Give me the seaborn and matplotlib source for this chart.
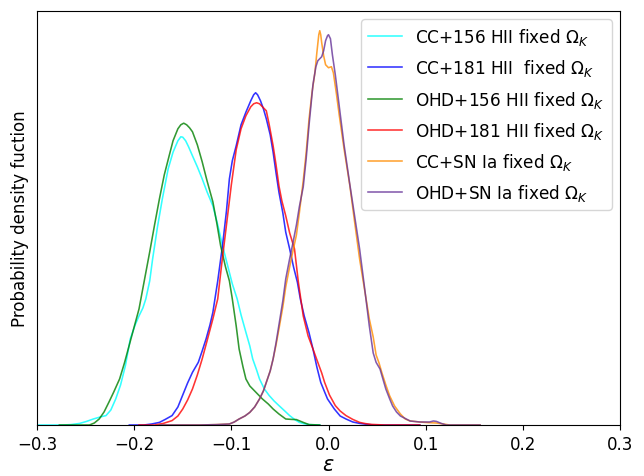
import matplotlib
matplotlib.use("Agg")
import matplotlib.pyplot as plt
import seaborn as sns
import numpy as np

# ---- data (epsilon, probability density) ----
cc156_x = [-0.300, -0.274, -0.265, -0.256, -0.249, -0.242, -0.235, -0.229, -0.224, -0.219, -0.214, -0.209,
           -0.204, -0.199, -0.195, -0.191, -0.188, -0.184, -0.181, -0.176, -0.171, -0.165, -0.160, -0.155,
           -0.152, -0.150, -0.147, -0.144, -0.140, -0.135, -0.130, -0.125, -0.119, -0.114, -0.109, -0.104,
           -0.099, -0.094, -0.090, -0.085, -0.081, -0.078, -0.074, -0.071, -0.066, -0.061, -0.056, -0.051,
           -0.045, -0.040, -0.035, -0.030, -0.025, -0.020, -0.009]
cc156_y = [0, 0, 0.02, 0.08, 0.18, 0.30, 0.40, 0.47, 0.75, 1.30, 2.00, 2.97,
           4.30, 5.00, 5.45, 5.85, 6.30, 7.20, 8.30, 9.90, 11.30, 12.80, 13.63, 14.20,
           14.40, 14.38, 14.20, 13.90, 13.45, 12.90, 12.30, 11.65, 10.95, 10.00, 8.95, 8.00,
           7.05, 6.30, 5.50, 4.63, 3.95, 3.30, 2.75, 2.30, 1.80, 1.47, 1.20, 0.97,
           0.70, 0.47, 0.28, 0.13, 0.06, 0.02, 0]

cc181_x = [-0.205, -0.190, -0.182, -0.174, -0.168, -0.161, -0.155, -0.150, -0.145, -0.140, -0.134, -0.130,
           -0.126, -0.122, -0.119, -0.114, -0.109, -0.105, -0.102, -0.099, -0.095, -0.090, -0.085, -0.080,
           -0.077, -0.075, -0.073, -0.070, -0.067, -0.064, -0.060, -0.057, -0.054, -0.051, -0.047, -0.044,
           -0.040, -0.036, -0.032, -0.029, -0.025, -0.020, -0.016, -0.012, -0.008, -0.004, -0.001, 0.006,
           0.012, 0.018, 0.025, 0.032, 0.040, 0.047, 0.094]
cc181_y = [0, 0, 0.05, 0.13, 0.28, 0.47, 0.90, 1.50, 2.10, 2.63, 3.13, 3.70,
           4.30, 5.00, 5.63, 7.20, 9.00, 10.70, 12.30, 13.20, 13.95, 15.00, 15.63, 16.20,
           16.50, 16.60, 16.50, 16.20, 15.80, 15.30, 14.50, 13.63, 12.60, 11.63, 10.60, 9.63,
           8.80, 7.90, 7.13, 6.30, 5.45, 4.60, 3.80, 2.90, 2.13, 1.65, 1.30, 0.80,
           0.45, 0.30, 0.15, 0.08, 0.03, 0, 0]

ohd156_x = [-0.277, -0.246, -0.241, -0.236, -0.231, -0.226, -0.221, -0.215, -0.210, -0.205, -0.200, -0.195,
            -0.190, -0.184, -0.179, -0.174, -0.169, -0.164, -0.160, -0.155, -0.152, -0.149, -0.146, -0.143,
            -0.140, -0.135, -0.130, -0.125, -0.119, -0.115, -0.111, -0.106, -0.102, -0.099, -0.095, -0.092,
            -0.088, -0.085, -0.081, -0.078, -0.073, -0.068, -0.062, -0.057, -0.051, -0.044, -0.038, -0.033,
            -0.026, -0.020, -0.009]
ohd156_y = [0, 0, 0.10, 0.30, 0.65, 1.14, 1.65, 2.30, 3.10, 4.00, 4.90, 5.80,
            7.10, 8.65, 10.00, 11.30, 12.50, 13.45, 14.20, 14.80, 15.00, 15.08, 15.00, 14.85,
            14.65, 14.00, 13.15, 12.20, 11.15, 10.10, 8.95, 7.90, 7.20, 6.30, 4.95, 3.80,
            2.90, 2.30, 1.95, 1.80, 1.55, 1.30, 1.05, 0.80, 0.55, 0.30, 0.28, 0.27,
            0.13, 0.02, 0]

ohd181_x = [-0.195, -0.179, -0.170, -0.161, -0.155, -0.150, -0.145, -0.140, -0.135, -0.130, -0.125, -0.119,
            -0.114, -0.110, -0.105, -0.100, -0.095, -0.090, -0.085, -0.080, -0.077, -0.074, -0.071, -0.068,
            -0.064, -0.061, -0.057, -0.054, -0.051, -0.048, -0.044, -0.040, -0.035, -0.031, -0.026, -0.021,
            -0.016, -0.011, -0.007, -0.004, 0.001, 0.007, 0.012, 0.018, 0.025, 0.032, 0.038, 0.044,
            0.058, 0.094]
ohd181_y = [0, 0, 0.08, 0.22, 0.45, 0.80, 1.25, 1.80, 2.50, 3.30, 4.20, 5.30,
            6.30, 8.00, 10.00, 12.00, 13.75, 14.80, 15.45, 15.90, 16.05, 16.10, 16.05, 15.90,
            15.70, 15.00, 13.95, 13.00, 11.95, 11.20, 10.45, 9.60, 8.80, 7.13, 5.45, 4.45,
            3.80, 3.13, 2.60, 2.13, 1.50, 0.97, 0.70, 0.47, 0.28, 0.13, 0.07, 0.03,
            0, 0]

ccsn_x = [-0.174, -0.133, -0.115, -0.102, -0.097, -0.092, -0.086, -0.081, -0.076, -0.071, -0.067, -0.064,
          -0.060, -0.057, -0.054, -0.051, -0.047, -0.044, -0.040, -0.037, -0.033, -0.030, -0.026, -0.023,
          -0.020, -0.017, -0.014, -0.012, -0.010, -0.009, -0.008, -0.007, -0.005, -0.003, 0.000, 0.003,
          0.005, 0.008, 0.011, 0.016, 0.022, 0.027, 0.032, 0.037, 0.042, 0.046, 0.049, 0.052,
          0.055, 0.059, 0.063, 0.068, 0.074, 0.079, 0.084, 0.094, 0.102, 0.111, 0.118, 0.125, 0.156]
ccsn_y = [0, 0, 0.02, 0.05, 0.15, 0.30, 0.45, 0.63, 0.90, 1.30, 1.70, 2.13,
          2.70, 3.30, 4.00, 4.80, 5.90, 6.90, 7.90, 8.60, 9.50, 10.60, 12.20, 13.60,
          15.30, 16.60, 17.60, 18.60, 19.50, 19.70, 19.50, 19.10, 18.45, 18.00, 17.85, 17.90,
          17.60, 16.60, 15.50, 13.80, 11.95, 10.10, 8.30, 6.80, 5.30, 4.40, 3.50, 3.10,
          2.60, 2.00, 1.45, 0.95, 0.55, 0.30, 0.20, 0.15, 0.12, 0.10, 0.05, 0, 0]

ohdsn_x = [-0.174, -0.133, -0.115, -0.102, -0.097, -0.092, -0.086, -0.081, -0.076, -0.071, -0.067, -0.064,
           -0.060, -0.057, -0.054, -0.051, -0.047, -0.044, -0.040, -0.037, -0.033, -0.030, -0.026, -0.023,
           -0.020, -0.016, -0.013, -0.011, -0.009, -0.007, -0.005, -0.003, -0.001, 0.000, 0.002, 0.004,
           0.007, 0.011, 0.016, 0.022, 0.027, 0.032, 0.037, 0.042, 0.046, 0.049, 0.053, 0.056,
           0.059, 0.063, 0.066, 0.070, 0.074, 0.084, 0.094, 0.104, 0.108, 0.111, 0.116, 0.121, 0.156]
ohdsn_y = [0, 0, 0.02, 0.05, 0.15, 0.30, 0.45, 0.63, 0.90, 1.30, 1.70, 2.13,
           2.70, 3.30, 4.10, 5.00, 6.20, 7.30, 8.30, 9.00, 10.00, 10.90, 11.90, 13.30,
           15.00, 17.00, 17.90, 18.20, 18.30, 18.40, 18.70, 19.20, 19.45, 19.50, 19.30, 18.50,
           17.50, 15.95, 14.00, 12.00, 10.40, 8.80, 6.90, 4.95, 3.60, 3.13, 2.80, 2.30,
           1.80, 1.30, 0.95, 0.65, 0.45, 0.20, 0.15, 0.15, 0.20, 0.18, 0.08, 0, 0]

labels = [r"CC+156 HII fixed $\Omega_K$", r"CC+181 HII  fixed $\Omega_K$",
          r"OHD+156 HII fixed $\Omega_K$", r"OHD+181 HII fixed $\Omega_K$",
          r"CC+SN Ia fixed $\Omega_K$", r"OHD+SN Ia fixed $\Omega_K$"]
colors = ["cyan", "blue", "green", "red", "darkorange", "rebeccapurple"]
series = [(cc156_x, cc156_y), (cc181_x, cc181_y), (ohd156_x, ohd156_y),
          (ohd181_x, ohd181_y), (ccsn_x, ccsn_y), (ohdsn_x, ohdsn_y)]

fig = plt.figure(figsize=(6.44, 4.77), dpi=100)
ax = fig.add_axes([37/644, 1-426/477, (620-37)/644, (426-12)/477])

for (xs, ys), lab, col in zip(series, labels, colors):
    sns.lineplot(x=np.array(xs), y=np.array(ys), ax=ax, color=col, label=lab,
                 linewidth=1.15, alpha=0.8, sort=False)

ax.set_xlim(-0.3, 0.3)
ax.set_ylim(0, max(max(s[1]) for s in series) * 1.05)
ax.set_yticks([])
ax.set_xticks([-0.3, -0.2, -0.1, 0.0, 0.1, 0.2, 0.3])
ax.tick_params(axis="x", labelsize=12)
ax.set_xlabel(r"$\varepsilon$", fontsize=15, labelpad=1)
ax.set_ylabel("Probability density fuction", fontsize=12, labelpad=6)
ax.legend(loc="upper right", fontsize=12.2, handlelength=2.0, labelspacing=0.6,
          borderaxespad=0.5)

fig.savefig("out.png", dpi=100)
